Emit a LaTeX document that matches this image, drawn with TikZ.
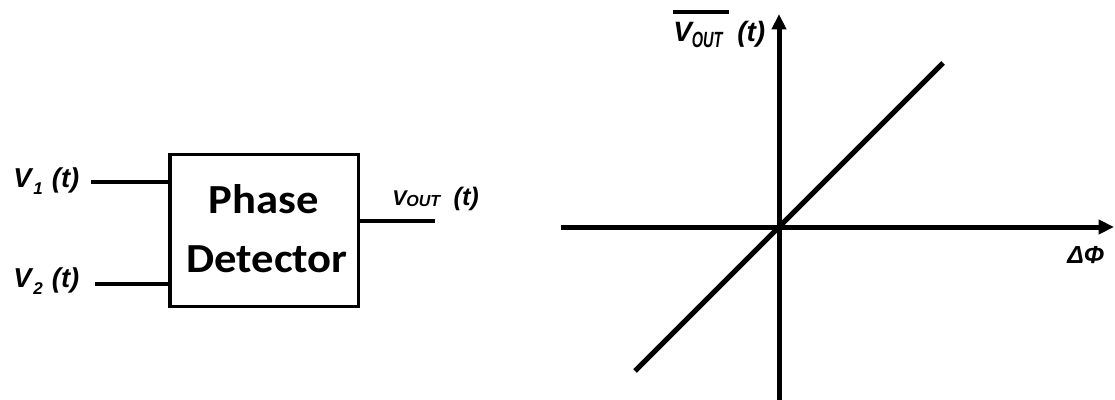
\documentclass[tikz,border=0pt]{standalone}
\usepackage{fontspec}
\newfontfamily\labfont{Liberation Sans}
\newfontfamily\boxfont{Carlito}
\usetikzlibrary{arrows.meta}
\newcommand\fs[1]{\fontsize{#1pt}{#1pt}\selectfont}
\tikzset{
  lab/.style={inner sep=0pt, anchor=base west, font=\labfont\bfseries\itshape},
  boxtext/.style={inner sep=0pt, anchor=base, font=\boxfont\bfseries\fs{31}},
  conn/.style={line width=3pt},
  axisline/.style={line width=3.75pt},
  axisarrow/.style={axisline, -{Triangle[length=11.5pt,width=10.5pt]}},
  pdbox/.style={draw, line width=2.5pt, minimum width=141.4pt, minimum height=114pt, inner sep=0pt},
}
\begin{document}
\begin{tikzpicture}[x=0.75pt,y=-0.75pt]
\useasboundingbox (0,0) rectangle (1115,400);
% block
\node[pdbox] (box) at (264.25,230.5) {};
\node[boxtext] (t1) at (264,213) {\scalebox{1.08}[1]{Phase}};
\node[boxtext] (t2) at (267,272) {\scalebox{1.08}[1]{Detector}};
\coordinate (in1) at (91,182);
\coordinate (in2) at (95,284);
\coordinate (out) at (435,221);
\draw[conn] (in1) -- (in1 -| box.west);
\draw[conn] (in2) -- (in2 -| box.west);
\draw[conn] (box.east |- out) -- (out);
\node[lab] (lv1) at (13,187) {\fs{20.5}V\hspace{1.5pt}\raisebox{-5.25pt}{\fs{12.75}1}\hspace{6.75pt}(t)};
\node[lab] (lv2) at (13,287) {\fs{20.5}V\hspace{1.5pt}\raisebox{-5.25pt}{\fs{12.75}2}\hspace{6.75pt}(t)};
\node[lab] (lvo) at (392,205) {\fs{16}V\raisebox{-0.75pt}{\fs{12}OUT}\hspace{10pt}\fs{19}(t)};
% graph
\coordinate (O) at (779,227);
\coordinate (ytop) at (779,14);
\coordinate (ybot) at (779,400);
\coordinate (xl) at (561,227);
\coordinate (xr) at (1114,227);
\coordinate (dl) at (635,371);
\coordinate (du) at (943,63);
\draw[axisline] (ybot) -- (O);
\draw[axisarrow] (O) -- (ytop);
\draw[axisline] (xl) -- (O);
\draw[axisarrow] (O) -- (xr);
\draw[axisline] (dl) -- (O) -- (du);
\node[lab] (ry) at (673,41) {\fs{21}V\raisebox{-4.5pt}{\scalebox{0.66}[1]{\fs{16.5}OUT}}\hspace{11pt}(t)};
\coordinate (ob1) at (673,12);
\coordinate (ob2) at (729,12);
\draw[line width=3pt] (ob1) -- (ob2);
\node[lab] (rx) at (1067,263) {\fs{18.5}ΔΦ};
\end{tikzpicture}
\end{document}
